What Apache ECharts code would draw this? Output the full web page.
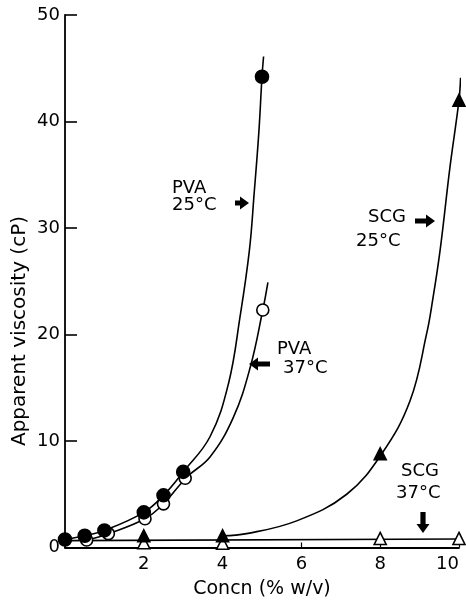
<!DOCTYPE html>
<html>
<head>
<meta charset="utf-8">
<script src="https://cdn.jsdelivr.net/npm/echarts@6/dist/echarts.min.js"></script>
<style>html,body{margin:0;padding:0;background:#fff;}#c{width:466px;height:601px;}</style>
</head>
<body>
<div id="c"></div>
<script>
// ---- data ----
const xTickValues = [0, 2, 4, 6, 8, 10];
const xTickLabels = ['', '2', '4', '6', '8', '10'];
const yTickValues = [0, 10, 20, 30, 40, 50];
const yTickLabels = ['0', '10', '20', '30', '40', '50'];

const pva25Points = [[0, 0.75], [0.5, 1.1], [1.0, 1.6], [2.0, 3.3], [2.5, 4.9], [3.0, 7.1], [5.0, 44.2]];
const pva37Points = [[0.55, 0.7], [1.1, 1.3], [2.03, 2.7], [2.5, 4.1], [3.05, 6.5], [5.02, 22.3]];
const scg25Points = [[2, 1.1], [4, 1.1], [8, 8.8], [10, 42.0]];
const scg37Points = [[2, 0.45], [4, 0.4], [8, 0.85], [10, 0.85]];

// fitted curves as traced on the reference
const pva25Curve = [[0, 0.75], [0.5, 1.1], [1.0, 1.6], [2.0, 3.3], [2.5, 4.9], [3.0, 7.1], [3.68, 10.4], [4.15, 15.4], [4.44, 21.6], [4.68, 27.9], [4.8, 33.2], [4.92, 39.0], [5.0, 44.2], [5.04, 46.1]];
const pva37Curve = [[0.55, 0.7], [1.1, 1.3], [2.03, 2.7], [2.5, 4.1], [3.09, 6.6], [3.68, 8.5], [4.27, 12.2], [4.7, 16.9], [5.02, 22.3], [5.15, 24.9]];
const scg25Curve = [[4, 1.1], [4.61, 1.3], [5.88, 2.5], [7.15, 5.0], [8.04, 8.8], [8.76, 13.8], [9.18, 20.1], [9.33, 23.2], [9.52, 27.9], [9.77, 35.7], [10.0, 42.0], [10.04, 44.1]];
const scg37Curve = [[0, 0.65], [10, 0.8]];

const xName = 'Concn (% w/v)';
const yName = 'Apparent viscosity (cP)';

// ---- chart ----
const FONT = 'DejaVu Sans';
const chart = echarts.init(document.getElementById('c'), null, {renderer: 'canvas'});

function arrow(x0, y0, x1, y1) {
  const dx = x1 - x0, dy = y1 - y0, L = Math.hypot(dx, dy);
  const ux = dx / L, uy = dy / L, px = -uy, py = ux;
  const hb = 2.6, hh = 6.5, hl = 9;
  const bx = x1 - ux * hl, by = y1 - uy * hl;
  const pts = [
    [x0 + px * hb, y0 + py * hb], [bx + px * hb, by + py * hb], [bx + px * hh, by + py * hh],
    [x1, y1],
    [bx - px * hh, by - py * hh], [bx - px * hb, by - py * hb], [x0 - px * hb, y0 - py * hb]
  ];
  return {type: 'polygon', shape: {points: pts}, style: {fill: '#000'}, z: 10};
}
function txt(x, y, s) {
  return {type: 'text', x: x, y: y, style: {text: s, fontFamily: FONT, fontSize: 18, fill: '#000', align: 'left', verticalAlign: 'top'}, z: 10};
}

const lineStyle = {color: '#000', width: 1.6};
function curve(data) {
  return {type: 'line', data: data, smooth: 0.4, showSymbol: false, symbol: 'none',
    lineStyle: lineStyle, silent: true, z: 2};
}
function marks(data, symbol, filled, size) {
  return {type: 'scatter', data: data, symbol: symbol, symbolSize: size,
    itemStyle: {color: filled ? '#000' : '#fff', borderColor: '#000', borderWidth: 1.6, opacity: 1}, z: 5};
}

chart.setOption({
  animation: false,
  backgroundColor: '#fff',
  grid: {left: 65, right: 7, top: 15, bottom: 53.5, containLabel: false, outerBoundsMode: 'none'},
  xAxis: {
    type: 'value', min: 0, max: 10, interval: 2,
    name: xName, nameLocation: 'middle', nameGap: 32,
    nameTextStyle: {fontFamily: FONT, fontSize: 19, color: '#000'},
    axisLine: {show: true, lineStyle: {color: '#000', width: 1.8}},
    axisTick: {show: true, inside: true, length: 5, lineStyle: {color: '#000', width: 1.2}},
    axisLabel: {fontFamily: FONT, fontSize: 18, color: '#000', margin: 8, alignMaxLabel: 'right',
      formatter: v => xTickLabels[xTickValues.indexOf(v)]},
    splitLine: {show: false}
  },
  yAxis: {
    type: 'value', min: 0, max: 50, interval: 10,
    axisLine: {show: true, lineStyle: {color: '#000', width: 1.8}},
    axisTick: {show: true, inside: true, length: 12, lineStyle: {color: '#000', width: 1.6}},
    axisLabel: {fontFamily: FONT, fontSize: 18, color: '#000', margin: 5,
      formatter: v => yTickLabels[yTickValues.indexOf(v)]},
    splitLine: {show: false}
  },
  series: [
    curve(pva25Curve), curve(pva37Curve), curve(scg25Curve), curve(scg37Curve),
    marks(pva37Points, 'circle', false, 12),
    marks(pva25Points, 'circle', true, 13),
    marks(scg37Points, 'triangle', false, 12),
    marks(scg25Points, 'triangle', true, 12)
  ],
  graphic: [
    {type: 'text', x: 20, y: 331, rotation: Math.PI / 2,
      style: {text: yName, fontFamily: FONT, fontSize: 20, fill: '#000', align: 'center', verticalAlign: 'middle'}},
    txt(172, 179, 'PVA'), txt(172, 196, '25°C'), arrow(235, 203, 249, 203),
    txt(277, 340, 'PVA'), txt(283, 359, '37°C'), arrow(270, 364, 249, 364),
    txt(368, 208, 'SCG'), txt(356, 232, '25°C'), arrow(415, 221, 435, 221),
    txt(401, 462, 'SCG'), txt(396, 484, '37°C'), arrow(423, 512, 423, 533)
  ]
});
</script>
</body>
</html>
